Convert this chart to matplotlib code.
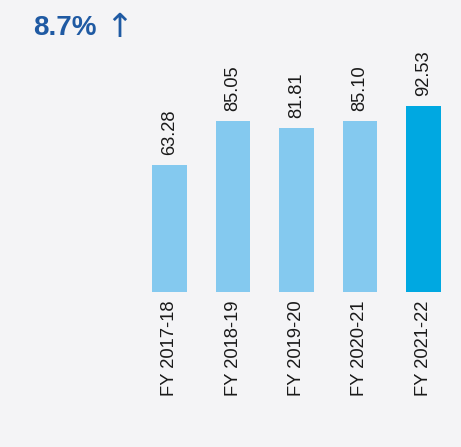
import matplotlib.pyplot as plt
import numpy as np

categories = ["FY 2017-18", "FY 2018-19", "FY 2019-20", "FY 2020-21", "FY 2021-22"]
values = [63.28, 85.05, 81.81, 85.10, 92.53]
value_labels = ["63.28", "85.05", "81.81", "85.10", "92.53"]
colors = ["#84c9ef", "#84c9ef", "#84c9ef", "#84c9ef", "#00a8e1"]

W, H = 461, 447
fig = plt.figure(figsize=(W / 100, H / 100), dpi=100)
fig.patch.set_facecolor("#f4f4f6")
plt.rcParams['font.family'] = ['Liberation Sans', 'DejaVu Sans']

left = 137.75 / W
right = 455.25 / W
bottom = (H - 292) / H
height = 201 / H
ax = fig.add_axes([left, bottom, right - left, height])
ax.set_facecolor("none")

x = np.arange(len(categories))
bars = ax.bar(x, values, width=0.55, color=colors)
ax.set_xlim(-0.5, len(categories) - 0.5)
ax.set_ylim(0, 100)

for xi, v, lab in zip(x, values, value_labels):
    ax.annotate(lab, (xi, v), xytext=(0, 7), textcoords="offset points",
                rotation=90, ha="center", va="bottom", fontsize=13.2, color="#1a1a1a")

ax.set_xticks(x)
ax.set_xticklabels(categories, rotation=90, fontsize=13.2, color="#1a1a1a", va="top", ha="center")
ax.tick_params(axis="x", length=0, pad=6)
ax.set_yticks([])
for s in ax.spines.values():
    s.set_visible(False)

fig.text(33 / W, 1 - 15 / H, "8.7%", fontsize=20, fontweight="bold", color="#1f5aa3",
         ha="left", va="top")
fig.text(105 / W, 1 - 27.5 / H, "↑", fontsize=24, color="#1f5aa3", ha="left", va="center",
         family=['DejaVu Sans'])

fig.savefig("out.png", dpi=100, facecolor=fig.get_facecolor())
